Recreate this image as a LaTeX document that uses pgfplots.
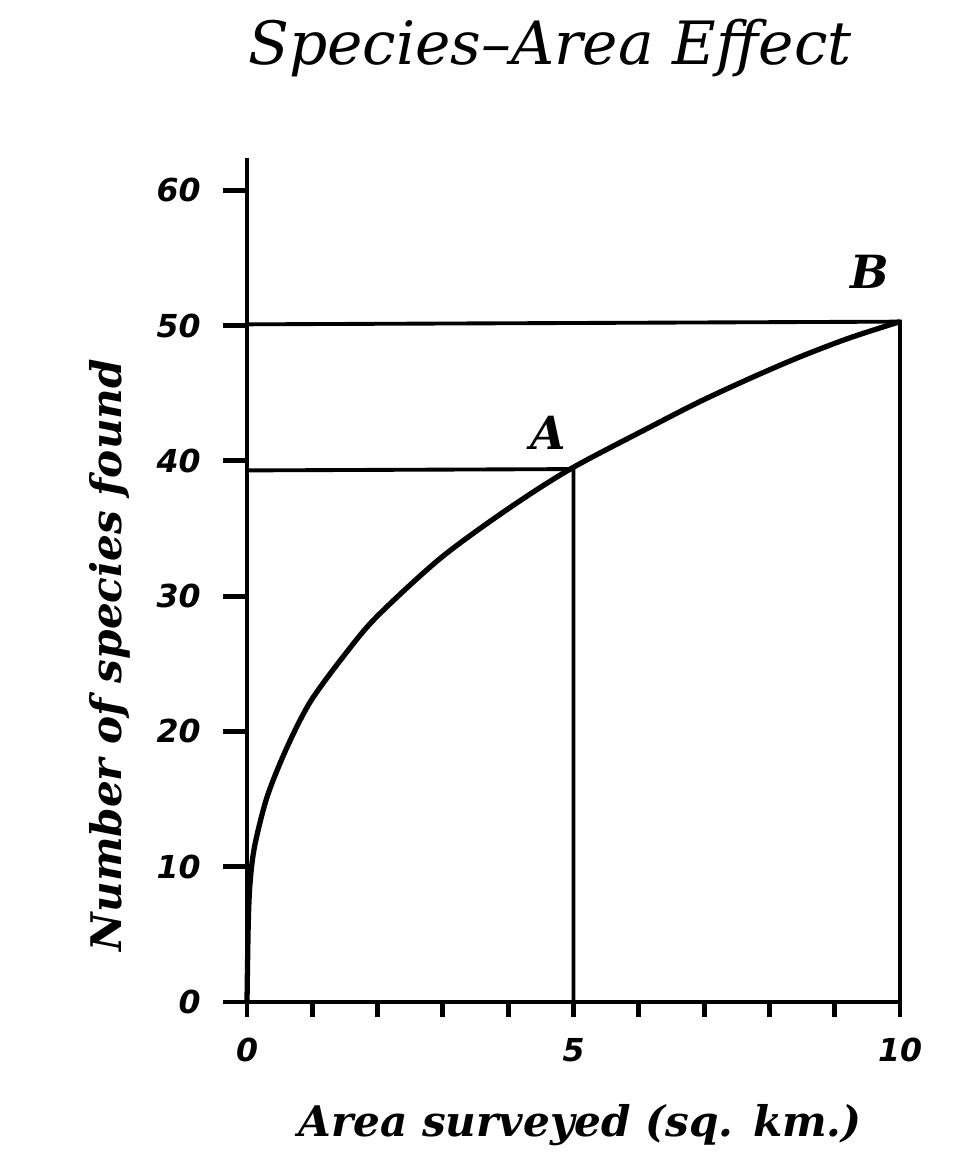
\documentclass[border=0pt]{standalone}
\usepackage{fontspec}
\setmainfont{DejaVu Serif}
\newfontfamily\tickfont{DejaVu Sans}
\usepackage{pgfplots}
\pgfplotsset{compat=1.18}

\begin{document}
\begin{tikzpicture}
\path[use as bounding box] (0,0) rectangle (9.75cm,11.73cm);
\begin{axis}[
  at={(2.47cm,1.71cm)}, anchor=south west,
  scale only axis,
  width=6.53cm, height=8.44cm,
  xmin=0, xmax=10, ymin=0, ymax=62.4,
  clip=false,
  axis lines=left,
  axis line style={-, line width=1.4pt},
  tick align=outside,
  major tick length=0.24cm,
  tick style={line width=1.4pt, black},
  x tick style={/pgfplots/major tick length=0.15cm},
  xtick={0,1,2,3,4,5,6,7,8,9,10},
  xticklabels={0,,,,,5,,,,,10},
  ytick={0,10,20,30,40,50,60},
  /pgf/number format/assume math mode=true,
  ticklabel style={font=\tickfont\bfseries\itshape\fontsize{9}{10}\selectfont},
  yticklabel style={xshift=-0.1cm},
  xlabel={Area surveyed (sq. km.)},
  ylabel={Number of species found},
  label style={font=\bfseries\itshape\fontsize{12}{14}\selectfont},
  xlabel style={at={(axis description cs:0.51,-0.146)}, anchor=center},
  ylabel style={at={(axis description cs:-0.21,0.411)}, anchor=center},
  title={Species–Area Effect},
  every axis title/.style={at={(axis description cs:0.464,1.13)}, anchor=center,
    font=\itshape\fontsize{17}{19}\selectfont},
]
% guide lines to points A and B
\addplot[line width=1.1pt] coordinates {(0,39.3) (5,39.4) (5,0)};
\addplot[line width=1.1pt] coordinates {(0,50.1) (10,50.3) (10,0)};
% species-area curve
\addplot[line width=1.5pt, smooth] coordinates {
  (0,0) (0.02,6) (0.05,9.0) (0.12,11.6) (0.31,15.2) (0.61,18.8)
  (0.97,22.2) (1.5,25.7) (1.99,28.5) (2.96,32.8) (3.98,36.4)
  (4.95,39.4) (6.17,42.5) (6.94,44.4) (7.7,46.1) (8.47,47.7)
  (9.23,49.1) (10,50.3)
};
\node[font=\bfseries\itshape\fontsize{13}{14}\selectfont] at (axis cs:4.61,42.1) {A};
\node[font=\bfseries\itshape\fontsize{13}{14}\selectfont] at (axis cs:9.54,53.95) {B};
\end{axis}
\end{tikzpicture}
\end{document}
